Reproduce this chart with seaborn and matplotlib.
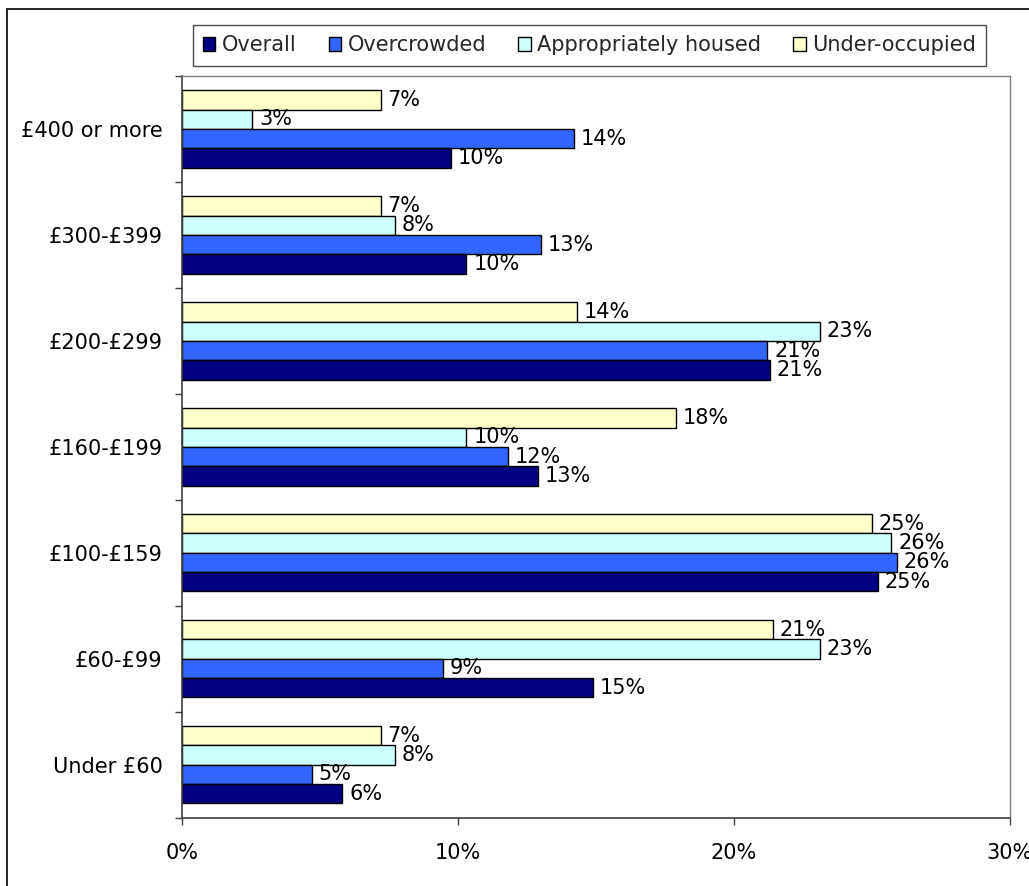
import matplotlib
matplotlib.use("Agg")
import matplotlib.pyplot as plt
import matplotlib.ticker as mticker
from matplotlib.patches import Patch, Rectangle
import pandas as pd
import seaborn as sns

# Weekly rent bands, top to bottom
categories = ["£400 or more", "£300-£399", "£200-£299", "£160-£199",
              "£100-£159", "£60-£99", "Under £60"]

# Share of households in each band (%)
overall = [9.75, 10.3, 21.3, 12.9, 25.2, 14.9, 5.8]
overcrowded = [14.2, 13.0, 21.2, 11.8, 25.9, 9.45, 4.7]
appropriately_housed = [2.55, 7.7, 23.1, 10.3, 25.7, 23.1, 7.7]
under_occupied = [7.2, 7.2, 14.3, 17.9, 25.0, 21.4, 7.2]

series_names = ["Overall", "Overcrowded", "Appropriately housed", "Under-occupied"]
series_values = [overall, overcrowded, appropriately_housed, under_occupied]
series_colors = ["#000080", "#3366FF", "#CCFFFF", "#FFFFCC"]
x_ticks = [0, 10, 20, 30]

rows = []
for name, vals in zip(series_names, series_values):
    for cat, v in zip(categories, vals):
        rows.append({"band": cat, "series": name, "pct": v})
df = pd.DataFrame(rows)

sns.set_theme(style="white")
plt.rcParams["font.family"] = ["DejaVu Sans"]
FS = 15

fig = plt.figure(figsize=(10.29, 8.86), dpi=100)
ax = fig.add_axes([182 / 1029, 1 - 817.7 / 886, (1010 - 182) / 1029, (817.7 - 76) / 886])

palette = dict(zip(series_names, series_colors))
sns.barplot(data=df, y="band", x="pct", hue="series",
            hue_order=series_names[::-1], order=categories,
            palette=palette, orient="h", width=0.73,
            edgecolor="black", linewidth=1, saturation=1,
            legend=False, ax=ax)

for cont in ax.containers:
    ax.bar_label(cont, labels=[f"{v:.0f}%" for v in cont.datavalues],
                 padding=5, fontsize=FS, color="black")

ax.set_xlim(0, 30)
ax.set_ylim(len(categories) - 0.5, -0.5)
ax.set_xticks(x_ticks)
ax.xaxis.set_major_formatter(mticker.FuncFormatter(lambda v, p: f"{v:.0f}%"))
ax.set_xlabel("")
ax.set_ylabel("")

ax.set_yticks(range(len(categories)))
ax.set_yticks([i - 0.5 for i in range(len(categories) + 1)], minor=True)
ax.tick_params(axis="y", which="major", length=0, pad=14, labelsize=FS, labelcolor="black")
ax.tick_params(axis="y", which="minor", length=5, width=1, color="#404040", direction="out", left=True)
ax.tick_params(axis="x", which="major", length=5, width=1, color="#404040", direction="out",
               bottom=True, pad=13, labelsize=FS, labelcolor="black")

for side in ["left", "bottom"]:
    ax.spines[side].set_color("#404040")
    ax.spines[side].set_linewidth(1.2)
for side in ["top", "right"]:
    ax.spines[side].set_color("#808080")
    ax.spines[side].set_linewidth(1)

handles = [Patch(facecolor=c, edgecolor="black", linewidth=1) for c in series_colors]
leg = fig.legend(handles, series_names, ncol=4, loc="center",
                 bbox_to_anchor=((192 + 987) / 2 / 1029, 1 - 45.3 / 886),
                 fontsize=FS, frameon=True, fancybox=False, edgecolor="#202020",
                 handlelength=0.6, handleheight=0.6, handletextpad=0.3,
                 columnspacing=1.55, borderpad=0.5, borderaxespad=0)
leg.get_frame().set_linewidth(1)

# Chart-area frame (left and top edges visible)
fig.patches.append(Rectangle((7 / 1029, -0.05), 1.2, 1 - 9.3 / 886 + 0.05,
                             transform=fig.transFigure, fill=False,
                             edgecolor="black", linewidth=1.2, zorder=0))

fig.savefig("out.png", dpi=100)
